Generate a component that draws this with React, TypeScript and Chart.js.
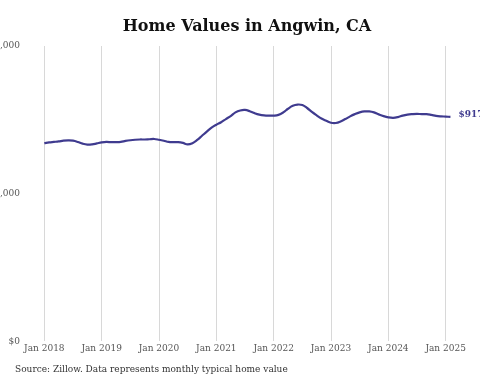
import React, { useEffect, useRef } from "react";
import { Chart, registerables } from "chart.js";

Chart.register(...registerables);

const TITLE = "Home Values in Angwin, CA";
const SOURCE = "Source: Zillow. Data represents monthly typical home value";
const END_LABEL = "$917K";
const START_YEAR = 2018;
const TICK_MONTHS = [0, 12, 24, 36, 48, 60, 72, 84];
const Y_TICKS = [0, 600000, 1200000];
// Monthly typical home value, Jan 2018 .. Feb 2025 (thousands of $)
const VALUES_K = [
  805, 808, 810, 812, 815, 816, 815, 810, 803, 799, 800, 804,
  808, 810, 809, 809, 810, 814, 817, 819, 820, 820, 821, 822,
  819, 815, 810, 809, 809, 806, 800, 805, 818, 835, 852, 868,
  880, 890, 903, 915, 930, 938, 940, 935, 927, 921, 918, 917,
  917, 920, 930, 945, 957, 962, 960, 948, 932, 918, 905, 896,
  888, 887, 893, 903, 914, 923, 930, 934, 934, 930, 922, 915,
  910, 908, 911, 917, 921, 923, 924, 923, 923, 920, 916, 914,
  913, 912,
];

const LINE_COLOR = "#3f3b8f";
const SERIF = "'DejaVu Serif', serif";

export default function App() {
  const ref = useRef<HTMLCanvasElement | null>(null);
  useEffect(() => {
    if (!ref.current) return;
    const points = VALUES_K.map((v, i) => ({ x: i, y: v * 1000 }));
    const endLabel = {
      id: "endLabel",
      afterDatasetsDraw(chart: any) {
        const meta = chart.getDatasetMeta(0);
        const last = meta.data[meta.data.length - 1];
        const ctx = chart.ctx;
        ctx.save();
        ctx.font = `bold 9px ${SERIF}`;
        ctx.fillStyle = LINE_COLOR;
        ctx.textAlign = "left";
        ctx.textBaseline = "middle";
        ctx.fillText(END_LABEL, last.x + 8, last.y - 2);
        ctx.restore();
      },
    };
    const textPlugin = {
      id: "texts",
      afterDraw(chart: any) {
        const ctx = chart.ctx;
        ctx.save();
        ctx.font = `bold 16px ${SERIF}`;
        ctx.fillStyle = "#111";
        ctx.textAlign = "center";
        ctx.textBaseline = "middle";
        ctx.fillText(TITLE, 247, 27);
        ctx.font = `9px ${SERIF}`;
        ctx.fillStyle = "#333";
        ctx.textAlign = "left";
        ctx.fillText(SOURCE, 15, 370);
        ctx.restore();
      },
    };
    const chart = new Chart(ref.current, {
      type: "line",
      data: {
        datasets: [
          {
            data: points,
            borderColor: LINE_COLOR,
            borderWidth: 2.2,
            pointRadius: 0,
            tension: 0.4,
            fill: false,
          },
        ],
      },
      options: {
        animation: false,
        responsive: false,
        layout: { padding: { left: 0, right: 20, top: 46, bottom: 28 } },
        plugins: {
          legend: { display: false },
          tooltip: { enabled: false },
          title: { display: false },
        },
        scales: {
          x: {
            type: "linear",
            min: -3,
            max: 87,
            afterBuildTicks: (scale: any) => {
              scale.ticks = TICK_MONTHS.map((m) => ({ value: m }));
            },
            ticks: {
              color: "#555",
              font: { family: SERIF, size: 9 },
              padding: 2,
              maxRotation: 0,
              autoSkip: false,
              callback: (v: any) => `Jan ${START_YEAR + Math.round(Number(v) / 12)}`,
            },
            grid: { color: "#d8d8d8", drawTicks: false, lineWidth: 1 },
            border: { display: false },
          },
          y: {
            min: 0,
            max: 1200000,
            afterBuildTicks: (scale: any) => {
              scale.ticks = Y_TICKS.map((v) => ({ value: v }));
            },
            afterFit: (scale: any) => {
              scale.width = 30;
            },
            ticks: {
              color: "#555",
              font: { family: SERIF, size: 9 },
              padding: 2,
              callback: (v: any) => "$" + Number(v).toLocaleString("en-US"),
            },
            grid: { display: false },
            border: { display: false },
          },
        },
      },
      plugins: [endLabel, textPlugin],
    });
    return () => chart.destroy();
  }, []);
  return (
    <canvas
      ref={ref}
      width={480}
      height={384}
      style={{ position: "fixed", left: 0, top: 0, width: 480, height: 384, background: "#fff" }}
    />
  );
}
